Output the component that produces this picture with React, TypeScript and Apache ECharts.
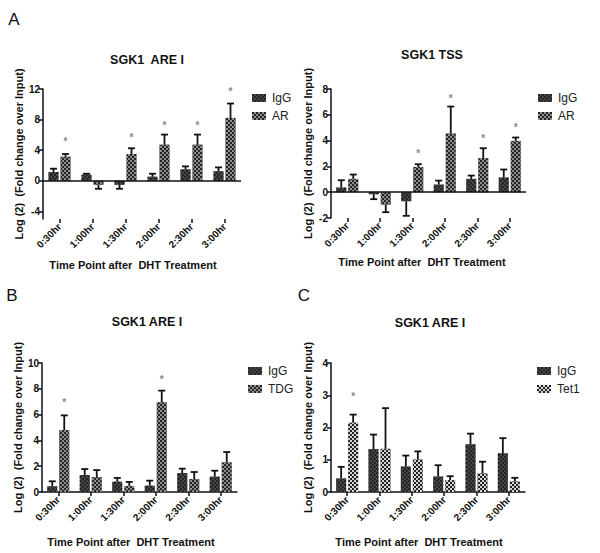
import React, { useEffect, useRef } from "react";
import * as echarts from "echarts";

const categories = ["0:30hr", "1:00hr", "1:30hr", "2:00hr", "2:30hr", "3:00hr"];

// Panel A (left): SGK1 ARE I — IgG vs AR
const aIgG = [1.15, 0.8, -0.53, 0.53, 1.5, 1.25];
const aIgGErr = [1.58, 0.92, -1.05, 0.92, 1.88, 1.75];
const aAR = [3.15, -0.53, 3.5, 4.72, 4.72, 8.22];
const aARErr = [3.5, -1.05, 4.25, 6.04, 6.04, 10.1];
const aStars = [5.12, null, 5.65, 7.23, 7.23, 11.7];

// Panel A (right): SGK1 TSS — IgG vs AR
const tIgG = [0.36, -0.16, -0.7, 0.59, 1.03, 1.14];
const tIgGErr = [0.93, -0.54, -1.83, 0.9, 1.29, 1.76];
const tAR = [1.03, -0.96, 1.96, 4.55, 2.64, 3.98];
const tARErr = [1.37, -1.55, 2.17, 6.64, 3.41, 4.24];
const tStars = [null, null, 2.97, 7.24, 4.13, 5.01];

// Panel B: SGK1 ARE I — IgG vs TDG
const bIgG = [0.44, 1.32, 0.8, 0.49, 1.47, 1.19];
const bIgGErr = [0.83, 1.78, 1.09, 0.88, 1.81, 1.65];
const bTDG = [4.8, 1.16, 0.47, 6.95, 1.0, 2.3];
const bTDGErr = [5.94, 1.7, 0.78, 7.86, 1.55, 3.1];
const bStars = [6.9, null, null, 8.7, null, null];

// Panel C: SGK1 ARE I — IgG vs Tet1
const cIgG = [0.42, 1.33, 0.79, 0.48, 1.48, 1.2];
const cIgGErr = [0.78, 1.78, 1.13, 0.83, 1.81, 1.67];
const cTet1 = [2.15, 1.34, 1.01, 0.37, 0.58, 0.33];
const cTet1Err = [2.4, 2.6, 1.26, 0.49, 0.94, 0.44];
const cStars = [2.97, null, null, null, null, null];

const aTicks = [-4, 0, 4, 8, 12];
const noStars = [null, null, null, null, null, null];

const FONT = "Liberation Sans, Arial, sans-serif";
const INK = "#111";

const iggStyle = {
  color: "#262626",
  decal: {
    symbol: "rect",
    symbolSize: 1,
    color: "#444",
    dashArrayX: [[2, 2], [0, 2, 2, 0]],
    dashArrayY: [2, 0],
  },
};
const darkCheck = {
  color: "#262626",
  decal: {
    symbol: "rect",
    symbolSize: 1,
    color: "#8c8c8c",
    dashArrayX: [[2, 2], [0, 2, 2, 0]],
    dashArrayY: [2, 0],
  },
};
const lightCheck = {
  color: "#222",
  decal: {
    symbol: "rect",
    symbolSize: 1,
    color: "#d4d4d4",
    dashArrayX: [[2, 2], [0, 2, 2, 0]],
    dashArrayY: [2, 0],
  },
};

function barSeries(name: string, idx: number, data: number[], style: any, zeroLine: boolean) {
  const s: any = {
    type: "bar",
    name,
    xAxisIndex: idx,
    yAxisIndex: idx,
    data,
    barWidth: 10,
    barGap: "20%",
    itemStyle: style,
    silent: true,
  };
  if (zeroLine) {
    s.markLine = {
      silent: true,
      symbol: ["none", "none"],
      label: { show: false },
      lineStyle: { color: INK, width: 1.5, type: "solid" },
      data: [{ yAxis: 0 }],
    };
  }
  return s;
}

function errSeries(idx: number, vals: number[], errs: number[], stars: (number | null)[], offset: number) {
  return {
    type: "custom",
    xAxisIndex: idx,
    yAxisIndex: idx,
    silent: true,
    z: 10,
    data: vals.map((v, i) => [i, v, errs[i]]),
    encode: { x: 0, y: [1, 2] },
    renderItem: (params: any, api: any) => {
      const i = api.value(0);
      const v = api.value(1);
      const e = api.value(2);
      const p0 = api.coord([i, v]);
      const p1 = api.coord([i, e]);
      const x = p0[0] + offset;
      const children: any[] = [
        { type: "line", shape: { x1: x, y1: p0[1], x2: x, y2: p1[1] }, style: { stroke: INK, lineWidth: 1.8 } },
        { type: "line", shape: { x1: x - 3.5, y1: p1[1], x2: x + 3.5, y2: p1[1] }, style: { stroke: INK, lineWidth: 1.8 } },
      ];
      const s = stars[i];
      if (s !== null && s !== undefined) {
        const ps = api.coord([i, s]);
        children.push({
          type: "text",
          x,
          y: ps[1],
          style: { text: "*", fill: "#888", font: `bold 10px ${FONT}`, align: "center", verticalAlign: "middle" },
        });
      }
      return { type: "group", children };
    },
  };
}

const grids = [
  { left: 43, top: 89, width: 198, height: 130 },
  { left: 331, top: 89, width: 195, height: 129 },
  { left: 42, top: 363, width: 195, height: 129 },
  { left: 331, top: 363, width: 194, height: 129 },
];

function xAxisFor(idx: number, showLine: boolean) {
  return {
    type: "category",
    gridIndex: idx,
    data: categories,
    position: "bottom",
    axisLine: { show: showLine, onZero: false, lineStyle: { color: INK, width: 1.5 } },
    axisTick: { show: true, alignWithLabel: true, length: 4, lineStyle: { color: INK, width: 1.5 } },
    axisLabel: { rotate: 45, fontSize: 10, fontWeight: "bold", color: INK, fontFamily: FONT, margin: 6 },
    splitLine: { show: false },
  };
}

function yAxisFor(idx: number, min: number, max: number, interval: number, nameGap: number, custom?: number[]) {
  const ax: any = {
    type: "value",
    gridIndex: idx,
    min,
    max,
    interval,
    name: "Log (2)  (Fold change over Input)",
    nameLocation: "middle",
    nameRotate: 90,
    nameGap,
    nameTextStyle: { fontSize: 11, fontWeight: "bold", color: INK, fontFamily: FONT },
    axisLine: { show: true, lineStyle: { color: INK, width: 1.5 } },
    axisTick: { show: true, length: 4, lineStyle: { color: INK, width: 1.5 } },
    axisLabel: { fontSize: 10, fontWeight: "bold", color: INK, fontFamily: FONT, margin: 3 },
    splitLine: { show: false },
  };
  if (custom) {
    ax.axisTick.customValues = custom;
    ax.axisLabel.customValues = custom;
  }
  return ax;
}

function legendFor(left: number, top: number, names: string[]) {
  return {
    orient: "vertical",
    left,
    top,
    data: names.map((n) => ({ name: n, icon: "rect" })),
    itemWidth: 14,
    itemHeight: 8,
    itemGap: 6,
    selectedMode: false,
    textStyle: { fontSize: 12, color: "#222", fontFamily: FONT, padding: [0, 0, 0, 1] },
    padding: 0,
  };
}

function txt(x: number, y: number, text: string, font: string) {
  return {
    type: "text",
    x,
    y,
    silent: true,
    style: { text, font, fill: INK, align: "center", verticalAlign: "middle" },
  };
}

export default function App() {
  const ref = useRef<HTMLDivElement>(null);
  useEffect(() => {
    if (!ref.current) return;
    const chart = echarts.init(ref.current, undefined, { renderer: "svg" });
    const option: any = {
      animation: false,
      backgroundColor: "#fff",
      grid: grids,
      xAxis: [xAxisFor(0, false), xAxisFor(1, false), xAxisFor(2, true), xAxisFor(3, true)],
      yAxis: [
        yAxisFor(0, -5, 12, 4, 17, aTicks),
        yAxisFor(1, -2, 8, 2, 18),
        yAxisFor(2, 0, 10, 2, 17),
        yAxisFor(3, 0, 4, 1, 18),
      ],
      legend: [
        legendFor(252, 92, ["IgG", "AR"]),
        legendFor(538, 92, ["IgG", "AR"]),
        legendFor(248, 365, ["IgG", "TDG"]),
        legendFor(537, 365, ["IgG", "Tet1"]),
      ],
      series: [
        barSeries("IgG", 0, aIgG, iggStyle, true),
        barSeries("AR", 0, aAR, darkCheck, false),
        errSeries(0, aIgG, aIgGErr, noStars, -6),
        errSeries(0, aAR, aARErr, aStars, 6),

        barSeries("IgG", 1, tIgG, iggStyle, true),
        barSeries("AR", 1, tAR, darkCheck, false),
        errSeries(1, tIgG, tIgGErr, noStars, -6),
        errSeries(1, tAR, tARErr, tStars, 6),

        barSeries("IgG", 2, bIgG, iggStyle, false),
        barSeries("TDG", 2, bTDG, darkCheck, false),
        errSeries(2, bIgG, bIgGErr, noStars, -6),
        errSeries(2, bTDG, bTDGErr, bStars, 6),

        barSeries("IgG", 3, cIgG, iggStyle, false),
        barSeries("Tet1", 3, cTet1, lightCheck, false),
        errSeries(3, cIgG, cIgGErr, noStars, -6),
        errSeries(3, cTet1, cTet1Err, cStars, 6),
      ],
      graphic: [
        txt(14, 19, "A", `17px ${FONT}`),
        txt(12, 295, "B", `17px ${FONT}`),
        txt(304, 295, "C", `17px ${FONT}`),
        txt(147, 60, "SGK1  ARE I", `bold 12.5px ${FONT}`),
        txt(432, 55, "SGK1 TSS", `bold 12.5px ${FONT}`),
        txt(147, 322, "SGK1 ARE I", `bold 12.5px ${FONT}`),
        txt(430, 323, "SGK1 ARE I", `bold 12.5px ${FONT}`),
        txt(133, 265, "Time Point after  DHT Treatment", `bold 11px ${FONT}`),
        txt(422, 262, "Time Point after  DHT Treatment", `bold 11px ${FONT}`),
        txt(131, 542, "Time Point after  DHT Treatment", `bold 11px ${FONT}`),
        txt(419, 542, "Time Point after  DHT Treatment", `bold 11px ${FONT}`),
      ],
    };
    chart.setOption(option);
    return () => chart.dispose();
  }, []);
  return (
    <div
      ref={ref}
      style={{ position: "fixed", left: 0, top: 0, width: 600, height: 553, background: "#fff" }}
    />
  );
}
